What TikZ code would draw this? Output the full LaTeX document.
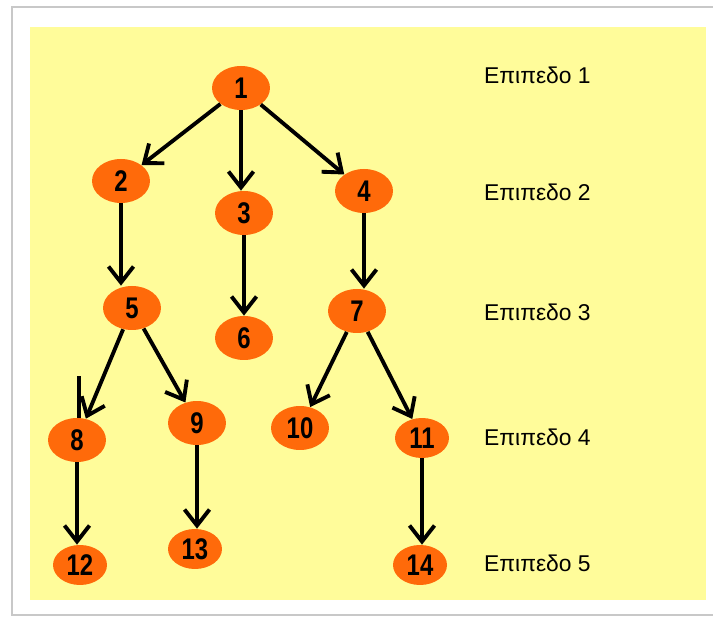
\documentclass[tikz,border=0pt]{standalone}
\usepackage{fontspec}
\setmainfont{Liberation Sans}
\newfontfamily\numfont[FakeStretch=0.8]{Liberation Sans}
\usepackage{tikz}
\usetikzlibrary{arrows.meta,shapes.geometric}
\definecolor{PaleYellow}{HTML}{FFFC9A}
\definecolor{TreeOrange}{HTML}{FF6A0A}
\definecolor{FrameGray}{HTML}{C8C8C8}

\begin{document}
\begin{tikzpicture}[x=0.02cm,y=-0.02cm,
    vertex/.style={ellipse, fill=TreeOrange, inner sep=0pt,
        minimum width=1.16cm, minimum height=0.88cm,
        font=\numfont\bfseries\fontsize{17}{17}\selectfont},
    leaf/.style={vertex, minimum width=1.08cm, minimum height=0.8cm},
    edge/.style={-{Straight Barb[length=0.32cm,width=0.5cm]}, line width=2.2pt, black},
    level/.style={anchor=west, font=\fontsize{13}{13}\selectfont}]
        \useasboundingbox (0,0) rectangle (713,617);
        % frame and background
        \fill[white, draw=FrameGray, line width=1.2pt] (12,7) rectangle (740,615);
        \fill[PaleYellow] (30,27) rectangle (706,600);
        % tree nodes
        \node[vertex] (n1) at (241,88) {1};
        \node[vertex] (n2) at (121,181) {2};
        \node[vertex] (n3) at (244,213) {3};
        \node[vertex] (n4) at (364,191) {4};
        \node[vertex] (n5) at (132,308) {5};
        \node[vertex] (n6) at (244,338) {6};
        \node[vertex] (n7) at (357,311) {7};
        \node[vertex] (n8) at (77,440) {8};
        \node[vertex] (n9) at (197,423) {9};
        \node[vertex] (n10) at (300,428) {10};
        \node[leaf] (n11) at (422,438) {11};
        \node[leaf] (n12) at (80,565) {12};
        \node[leaf] (n13) at (195,549) {13};
        \node[leaf] (n14) at (420,565) {14};
        % slanted connectors
        \foreach \a/\b in {1/2,1/4,5/8,5/9,7/10,7/11}{
            \draw[edge] (n\a) -- (n\b);
        }
        % straight-down connectors
        \foreach \a/\b in {1/3,2/5,3/6,4/7,8/12,9/13,11/14}{
            \draw[edge] (n\a.south) -- (n\a.south |- n\b.north);
        }
        \draw[line width=2.2pt] (n8.north) ++(2,0) -- ++(0,-42);
        % level labels
        \foreach \y [count=\i] in {75,192,312,437,563}{
            \node[level] (lvl\i) at (478,\y) {Επιπεδο \i};
        }
    \end{tikzpicture}
\end{document}
